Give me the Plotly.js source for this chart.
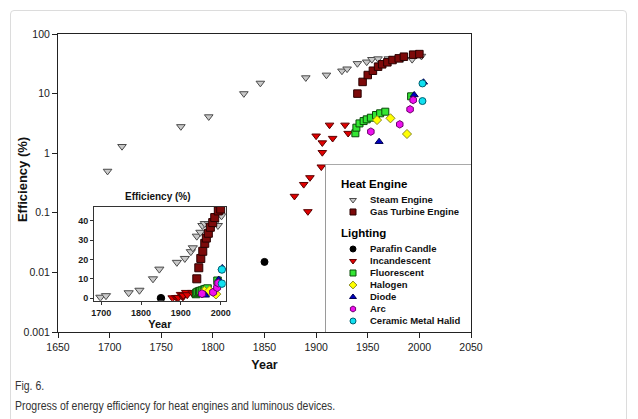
<!DOCTYPE html>
<html>
<head>
<meta charset="utf-8">
<script src="https://cdn.plot.ly/plotly-3.0.1.min.js"></script>
<style>
  html, body { margin:0; padding:0; background:#ffffff; overflow:hidden; }
  #card { position:absolute; left:10px; top:10px; width:615px; height:430px; border:1px solid #dcdcdc; border-radius:4px; background:#fff; }
  #chart { position:absolute; left:0; top:0; width:638px; height:419px; }
  .cap { position:absolute; left:15px; font-family:'Liberation Sans', Arial, sans-serif; font-size:12.5px; color:#333;
         white-space:nowrap; transform-origin:0 50%; line-height:14px; }
</style>
</head>
<body>
<div id="card"></div>
<div id="chart"></div>
<div class="cap" id="cap1" style="top:379px;">Fig. 6.</div>
<div class="cap" id="cap2" style="top:399px;">Progress of energy efficiency for heat engines and luminous devices.</div>
<script>
// ---- data ----
const steamYear = [1698, 1712, 1769, 1796, 1830, 1846, 1890, 1910, 1925, 1930, 1940, 1949, 1954, 1960, 1970, 1984, 1993, 2002];
const steamEff  = [0.5, 1.3, 2.8, 4.1, 10, 15, 18.5, 20.5, 24, 26, 32, 34, 37.5, 38.5, 38.5, 38.5, 37.5, 42.5];
const gasYear = [1940, 1945, 1950, 1955, 1960, 1964, 1969, 1974, 1980, 1985, 1994, 2000];
const gasEff  = [10, 15.7, 20.5, 24.2, 28.3, 31, 33.5, 36.6, 39, 41.6, 45, 46];
const candleYear = [1850];
const candleEff  = [0.015];
const incYear = [1879, 1888, 1892, 1894, 1900, 1905, 1906, 1906, 1913, 1916, 1928, 1931];
const incEff  = [0.19, 0.30, 0.105, 0.39, 1.95, 0.59, 1.03, 1.5, 2.97, 1.78, 2.97, 2.16];
const fluYear = [1938, 1939, 1942, 1946, 1949, 1953, 1958, 1962, 1967, 1992];
const fluEff  = [2.16, 2.68, 3.16, 3.46, 3.7, 3.94, 4.37, 4.67, 4.97, 9];
const halYear = [1959, 1972, 1988];
const halEff  = [3.6, 3.85, 2.1];
const diodeYear = [1961, 1995, 2004];
const diodeEff  = [1.56, 9.5, 15.5];
const arcYear = [1953, 1981, 1991, 1994];
const arcEff  = [2.3, 3.05, 5.45, 7.8];
const cmhYear = [2003, 2003];
const cmhEff  = [14.8, 7.5];

const mainXTicks = [1650, 1700, 1750, 1800, 1850, 1900, 1950, 2000, 2050];
const mainYTicks = [0.001, 0.01, 0.1, 1, 10, 100];
const mainYTickText = ['0.001', '0.01', '0.1', '1', '10', '100'];
const insetXTicks = [1700, 1800, 1900, 2000];
const insetYTicks = [0, 10, 20, 30, 40];
const groups = ['Heat Engine', 'Lighting'];

// ---- styling ----
const FONT = 'Liberation Sans, Arial, sans-serif';
const series = [
  {name:'Steam Engine', group:'Heat Engine', x:steamYear, y:steamEff, symbol:'triangle-down', color:'#c9c9c9', line:'#4a4a4a', size:7.5},
  {name:'Gas Turbine Engine', group:'Heat Engine', x:gasYear, y:gasEff, symbol:'square', color:'#7d0a0a', line:'#2a0000', size:7.5},
  {name:'Parafin Candle', group:'Lighting', x:candleYear, y:candleEff, symbol:'circle', color:'#000000', line:'#000000', size:7},
  {name:'Incandescent', group:'Lighting', x:incYear, y:incEff, symbol:'triangle-down', color:'#e00000', line:'#5a0000', size:7.5},
  {name:'Fluorescent', group:'Lighting', x:fluYear, y:fluEff, symbol:'square', color:'#33e633', line:'#0a4a0a', size:7},
  {name:'Halogen', group:'Lighting', x:halYear, y:halEff, symbol:'diamond', color:'#ffff00', line:'#8a8a20', size:7},
  {name:'Diode', group:'Lighting', x:diodeYear, y:diodeEff, symbol:'triangle-up', color:'#0000c0', line:'#000050', size:7},
  {name:'Arc', group:'Lighting', x:arcYear, y:arcEff, symbol:'hexagon', color:'#ee10ee', line:'#6a006a', size:7.5},
  {name:'Ceramic Metal Halid', group:'Lighting', x:cmhYear, y:cmhEff, symbol:'circle', color:'#10e0f0', line:'#006070', size:7}
];

const traces = [];
series.forEach(s => {
  traces.push({type:'scatter', mode:'markers', x:s.x, y:s.y, name:s.name, showlegend:false,
    xaxis:'x', yaxis:'y', hoverinfo:'x+y+name',
    marker:{symbol:s.symbol, size:s.size, color:s.color, line:{color:s.line, width:1}}});
});
series.forEach(s => {
  traces.push({type:'scatter', mode:'markers', x:s.x, y:s.y, name:s.name, showlegend:false,
    xaxis:'x2', yaxis:'y2', hoverinfo:'x+y+name',
    marker:{symbol:s.symbol, size:s.size + 0.5, color:s.color, line:{color:s.line, width:1}}});
});

// ---- hand-built legend (layout computed from the series list) ----
const legAnn = [];
const legX = [], legY = [], legSym = [], legCol = [], legLine = [];
let yy = 184;
groups.forEach((g, gi) => {
  if (gi > 0) yy += 21;
  legAnn.push({xref:'x3', yref:'y3', x:339, y:yy, text:g, showarrow:false, xanchor:'left', yanchor:'middle',
    font:{family:FONT, size:11.5, color:'#000', weight:'bold'}});
  yy += 16;
  series.filter(s => s.group === g).forEach((s, i) => {
    if (i > 0) yy += 12;
    legX.push(353); legY.push(yy); legSym.push(s.symbol); legCol.push(s.color); legLine.push(s.line);
    legAnn.push({xref:'x3', yref:'y3', x:368, y:yy, text:s.name, showarrow:false, xanchor:'left', yanchor:'middle',
      font:{family:FONT, size:9.5, color:'#111', weight:'bold'}});
  });
});
traces.push({type:'scatter', mode:'markers', x:legX, y:legY, xaxis:'x3', yaxis:'y3', showlegend:false, hoverinfo:'skip',
  marker:{symbol:legSym, size:6, color:legCol, line:{color:legLine, width:1}}});

const axisFont = {family:FONT, size:10.5, color:'#1a1a1a'};
const insetFont = {family:FONT, size:9, color:'#1a1a1a', weight:'bold'};

const layout = {
  width:638, height:419,
  margin:{l:58, r:167, t:34, b:87, pad:0},
  paper_bgcolor:'rgba(0,0,0,0)', plot_bgcolor:'#ffffff',
  showlegend:false,
  font:{family:FONT},
  xaxis:{domain:[0,1], range:[1650,2050], tickvals:mainXTicks, ticks:'outside', ticklen:5, tickcolor:'#222',
    showline:true, linecolor:'#222', linewidth:1, mirror:true, showgrid:false, zeroline:false,
    tickfont:axisFont, title:{text:'Year', font:{family:FONT, size:12.5, color:'#111', weight:'bold'}, standoff:8}},
  yaxis:{domain:[0,1], type:'log', range:[-3,2], tickvals:mainYTicks, ticktext:mainYTickText, ticks:'outside', ticklen:5, tickcolor:'#222',
    showline:true, linecolor:'#222', linewidth:1, mirror:true, showgrid:false, zeroline:false,
    tickfont:axisFont},
  xaxis2:{domain:[0.0872,0.406], anchor:'y2', range:[1682,2012.5], tickvals:insetXTicks, ticks:'outside', ticklen:3, tickcolor:'#333',
    showline:true, linecolor:'#333', linewidth:1, mirror:true, showgrid:false, zeroline:false,
    tickfont:insetFont, title:{text:'Year', font:{family:FONT, size:11, color:'#111', weight:'bold'}, standoff:3}},
  yaxis2:{domain:[0.105,0.4205], anchor:'x2', range:[-1.3,47.2], tickvals:insetYTicks, ticks:'outside', ticklen:3, tickcolor:'#333',
    showline:true, linecolor:'#333', linewidth:1, mirror:true, showgrid:false, zeroline:false,
    tickfont:insetFont},
  xaxis3:{domain:[0.6465,1], anchor:'y3', range:[325,471], visible:false, fixedrange:true},
  yaxis3:{domain:[0,0.5638], anchor:'x3', range:[332,164], visible:false, fixedrange:true},
  shapes:[
    {type:'line', xref:'x3', yref:'y3', x0:325, x1:471, y0:164, y1:164, line:{color:'#555', width:1.2}, layer:'above'},
    {type:'line', xref:'x3', yref:'y3', x0:325, x1:325, y0:164, y1:332, line:{color:'#9a9a9a', width:2}, layer:'above'}
  ],
  annotations: legAnn.concat([
    {xref:'paper', yref:'paper', x:-0.087, y:0.51, text:'Efficiency (%)', showarrow:false, textangle:-90,
      xanchor:'center', yanchor:'middle', font:{family:FONT, size:13, color:'#111', weight:'bold'}},
    {xref:'paper', yref:'paper', x:0.242, y:0.456, text:'Efficiency (%)', showarrow:false, xanchor:'center', yanchor:'middle',
      font:{family:FONT, size:10, color:'#111', weight:'bold'}}
  ])
};

Plotly.newPlot('chart', traces, layout, {displayModeBar:false, staticPlot:true});

// condense the caption text to the narrow face of the original page
['cap1','cap2'].forEach(id => {
  const el = document.getElementById(id);
  el.style.transform = 'scaleX(0.84)';
});
</script>
</body>
</html>
